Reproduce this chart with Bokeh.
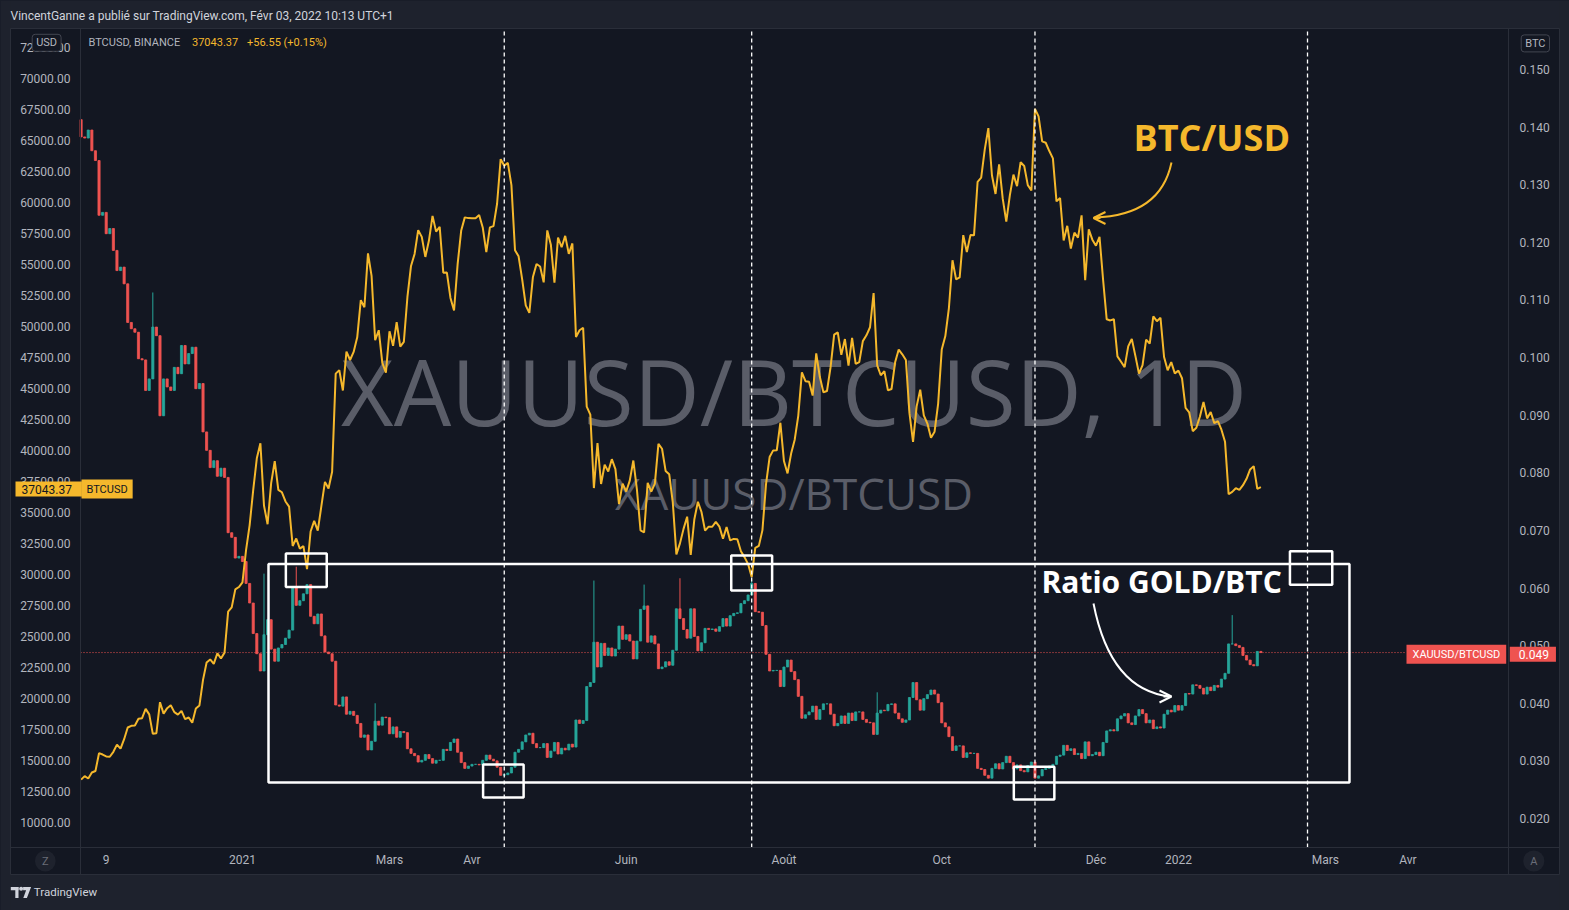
import numpy as np
import pandas as pd
from bokeh.plotting import figure
from bokeh.models import (Range1d, LinearAxis, FixedTicker, NumeralTickFormatter,
                          BoxAnnotation, Label, Arrow, OpenHead, ColumnDataSource)
from bokeh.embed import file_html
from bokeh.resources import INLINE
from bokeh.core.properties import value

# ----------------------------------------------------------------- data
first_bar = "2020-10-30"          # one bar per weekday (gold session)
last_bar = "2022-02-03"

# BTCUSD close (left axis, USD)
btc_2020 = [13460, 13740, 13550, 14030, 14150, 15590, 15480, 15330, 15300, 15700, 16280, 15960,
            16720, 17660, 17800, 17820, 18370, 18410, 19160, 18720, 17150, 17200, 19700, 18780,
            19220, 19450, 18900, 18700, 19000, 18340, 18470, 18050, 19200, 19440, 21500, 22900,
            23150, 22790, 23650, 23230, 23700, 27000, 27350, 28800, 28990]
btc_2021_q1 = [29370, 31970, 33990, 36820, 39370, 40580, 35560, 34050, 37370, 39150, 36830, 36630,
               35890, 35470, 32300, 32900, 32090, 32290, 30430, 33470, 34320,
               33530, 35510, 37470, 36930, 38290, 46200, 46480, 44840, 47970, 47300, 47950, 49130,
               52120, 51550, 55900, 54090, 48890, 49700, 47070, 46280,
               49620, 48440, 50350, 48370, 48760, 52380, 54880, 55850, 57770, 57230, 55610, 56930,
               58920, 57650, 58030, 54340, 54350, 52300, 51290, 55030, 57750, 58800, 58740]
btc_2021_q2 = [58730, 58730, 58990, 57990, 56000, 57990, 58100, 59900, 63500, 62960, 63200, 61400,
               56150, 55660, 53800, 51700, 51100, 54000, 55040, 54840, 53560, 57750,
               56600, 53540, 57170, 56390, 57310, 55860, 56700, 49150, 49700, 49900, 43540, 42900,
               36970, 40600, 37300, 38850, 38300, 39300, 38500, 35680, 37330,
               36690, 37570, 39190, 36850, 33560, 33400, 37390, 36680, 37330, 40530, 40140, 38350,
               38090, 35820, 31620, 32510, 33680, 34660, 31590, 34430, 35870, 35040]
btc_2021_q3 = [33540, 33860, 33850, 34240, 33860, 32880, 33820, 32750, 32870, 32840, 31880, 31400,
               30840, 29790, 32140, 32310, 33580, 37290, 39470, 40010, 40020, 42240,
               39150, 38150, 39750, 40870, 42820, 46300, 45590, 45550, 44430, 47830, 45940, 44700,
               44800, 46720, 49340, 49530, 47710, 48990, 46840, 49080, 46990, 47130,
               48820, 49290, 49940, 52700, 46860, 46070, 46400, 44850, 44960, 47110, 48140, 47760,
               47300, 43010, 40690, 43560, 44900, 42840, 42170, 41030, 41520, 43790]
btc_2021_q4 = [48140, 49230, 51490, 55340, 53800, 53960, 57370, 56000, 57370, 57350, 61670, 62000,
               64280, 66000, 62200, 60690, 63080, 60330, 58450, 60590, 62250,
               61320, 63250, 62940, 61400, 60970, 67550, 66940, 64930, 64820, 64150, 63560, 60090,
               60360, 56940, 58120, 56290, 57570, 57160, 58960, 53730, 57830, 57000,
               56520, 57230, 53750, 50580, 50490, 50590, 47590, 47160, 46720, 48400, 49000, 47630,
               46200, 46880, 48940, 48620, 50820, 50430, 50700, 47540, 46470, 47130, 46220]
btc_2022 = [46440, 45830, 43430, 43080, 41560, 41830, 42740, 43920, 42590, 43100, 42210, 42370,
            41680, 40700, 36470, 36660, 36960, 36820, 37200, 37720, 38470,
            38740, 36900, 37043]

# XAUUSD/BTCUSD close (right axis, BTC)
ratio_first_open = 0.1413
ratio_2020 = [0.1383, 0.1381, 0.1395, 0.1359, 0.1342, 0.1247, 0.1252, 0.1215, 0.1224, 0.1186,
              0.1151, 0.1157, 0.1128, 0.1061, 0.1050, 0.1044, 0.0998, 0.0996, 0.0943, 0.0963,
              0.1053, 0.1038, 0.0899, 0.0963, 0.0949, 0.0943, 0.0983, 0.0972, 0.1021, 0.0989,
              0.1007, 0.1018, 0.0946, 0.0955, 0.0871, 0.0839, 0.0809, 0.0821, 0.0794, 0.0808,
              0.0792, 0.0696, 0.0688, 0.0652, 0.0655]
ratio_2021_q1 = [0.0646, 0.0608, 0.0574, 0.0521, 0.0486, 0.0456, 0.0519, 0.0545, 0.0494, 0.0473,
                 0.0496, 0.0502, 0.0513, 0.0527, 0.0600, 0.0570, 0.0578, 0.0590, 0.0606, 0.0551,
                 0.0538,
                 0.0555, 0.0517, 0.0489, 0.0486, 0.0473, 0.0397, 0.0395, 0.0411, 0.0381, 0.0386,
                 0.0379, 0.0365, 0.0341, 0.0345, 0.0319, 0.0334, 0.0369, 0.0362, 0.0376, 0.0375,
                 0.0347, 0.0359, 0.0341, 0.0351, 0.0349, 0.0321, 0.0313, 0.0309, 0.0298, 0.0301,
                 0.0311, 0.0304, 0.0296, 0.0301, 0.0301, 0.0320, 0.0318, 0.0332, 0.0338, 0.0315,
                 0.0297, 0.0287, 0.0291]
ratio_2021_q2 = [0.0294, 0.0294, 0.0293, 0.0301, 0.0310, 0.0303, 0.0300, 0.0289, 0.0275, 0.0276,
                 0.0279, 0.0289, 0.0315, 0.0320, 0.0333, 0.0345, 0.0348, 0.0330, 0.0323, 0.0323,
                 0.0330, 0.0306,
                 0.0317, 0.0332, 0.0312, 0.0322, 0.0319, 0.0329, 0.0324, 0.0371, 0.0365, 0.0370,
                 0.0429, 0.0436, 0.0506, 0.0463, 0.0504, 0.0483, 0.0496, 0.0482, 0.0494, 0.0534,
                 0.0511,
                 0.0519, 0.0508, 0.0477, 0.0508, 0.0563, 0.0569, 0.0506, 0.0517, 0.0503, 0.0460,
                 0.0463, 0.0472, 0.0466, 0.0492, 0.0564, 0.0547, 0.0528, 0.0513, 0.0564, 0.0516,
                 0.0491, 0.0505]
ratio_2021_q3 = [0.0530, 0.0528, 0.0529, 0.0525, 0.0533, 0.0547, 0.0534, 0.0552, 0.0556, 0.0557,
                 0.0573, 0.0578, 0.0588, 0.0608, 0.0559, 0.0558, 0.0535, 0.0485, 0.0456, 0.0457,
                 0.0457, 0.0429,
                 0.0463, 0.0475, 0.0455, 0.0441, 0.0412, 0.0374, 0.0380, 0.0385, 0.0395, 0.0372,
                 0.0389, 0.0399, 0.0399, 0.0381, 0.0361, 0.0365, 0.0378, 0.0365, 0.0383, 0.0370,
                 0.0385, 0.0385,
                 0.0372, 0.0367, 0.0366, 0.0346, 0.0383, 0.0388, 0.0387, 0.0398, 0.0399, 0.0383,
                 0.0373, 0.0367, 0.0371, 0.0410, 0.0436, 0.0406, 0.0388, 0.0408, 0.0415, 0.0423,
                 0.0416, 0.0401]
ratio_2021_q4 = [0.0366, 0.0359, 0.0342, 0.0318, 0.0326, 0.0326, 0.0306, 0.0314, 0.0313, 0.0313,
                 0.0287, 0.0285, 0.0275, 0.0270, 0.0287, 0.0295, 0.0286, 0.0297, 0.0308, 0.0297,
                 0.0286,
                 0.0293, 0.0283, 0.0281, 0.0292, 0.0298, 0.0270, 0.0274, 0.0285, 0.0287, 0.0291,
                 0.0294, 0.0308, 0.0310, 0.0327, 0.0318, 0.0321, 0.0311, 0.0313, 0.0304, 0.0333,
                 0.0309, 0.0311,
                 0.0315, 0.0309, 0.0332, 0.0352, 0.0354, 0.0352, 0.0373, 0.0378, 0.0382, 0.0366,
                 0.0363, 0.0378, 0.0389, 0.0382, 0.0366, 0.0371, 0.0356, 0.0359, 0.0357, 0.0381,
                 0.0388, 0.0385, 0.0396]
ratio_2022 = [0.0388, 0.0396, 0.0417, 0.0416, 0.0432, 0.0431, 0.0426, 0.0416, 0.0428, 0.0422,
              0.0431, 0.0428, 0.0442, 0.0452, 0.0503, 0.0503, 0.0500, 0.0497, 0.0483, 0.0475,
              0.0467,
              0.0465, 0.0490, 0.0488]

# long upper wicks visible on the candles
wick_dates = ["2020-11-27", "2021-01-11", "2021-01-22", "2021-02-23", "2021-05-19",
              "2021-06-08", "2021-06-22", "2021-07-20", "2021-09-07", "2022-01-24"]
wick_highs = [0.1113, 0.0625, 0.0637, 0.0400, 0.0613, 0.0606, 0.0617, 0.0615, 0.0419, 0.0553]

# scales
tick_dates = ["2020-11-10", "2021-01-01", "2021-03-01", "2021-04-01", "2021-06-01", "2021-08-02",
              "2021-10-01", "2021-12-01", "2022-01-03", "2022-03-01", "2022-04-01"]
tick_labels = ["9", "2021", "Mars", "Avr", "Juin", "Août", "Oct", "Déc", "2022", "Mars", "Avr"]
usd_ticks = list(range(10000, 72501, 2500))
btc_ticks = [0.02, 0.03, 0.04, 0.05, 0.06, 0.07, 0.08, 0.09, 0.10, 0.11, 0.12, 0.13, 0.14, 0.15]

# author drawings (bar position, ratio)
vline_dates = ["2021-04-14", "2021-07-20", "2021-11-08", "2022-02-22"]
big_box = (52.26, 353.7, 0.02623, 0.06419)
small_boxes = [(57.1, 68.5, 0.0602, 0.0660), (112.1, 123.4, 0.02364, 0.02937),
               (181.3, 192.7, 0.05957, 0.06565), (260.1, 271.4, 0.0233, 0.02897),
               (337.1, 348.9, 0.06058, 0.06639)]
last_price = 0.0488

# ----------------------------------------------------------------- style
BG = "#131722"
OUTER = "#1e222d"
LINE = "#2a2e39"
AX_TXT = "#b2b5be"
UP = "#26a69a"
DOWN = "#ef5350"
YEL = "#f5b82c"
WM = "#5a5d68"
FONT = "Roboto"

W, H = 1569, 910
# page-pixel geometry of the TradingView pane
PANE_L, PANE_R, PANE_T, PANE_B = 10, 1559, 28, 874
PLOT_L, PLOT_R, PLOT_B = 80, 1508, 847
BAR_PX, BAR0_PX = 3.586, 80.6
USD_PX, USD_REF_PX = 0.0124, 822           # px per USD, pixel row of 10000
R_PX, R_REF_PX = 5761.5, 818                # px per BTC unit, pixel row of 0.020


def px2x(px):
    return (px - BAR0_PX) / BAR_PX


def py2usd(py):
    return 10000 + (USD_REF_PX - py) / USD_PX


def py2r(py):
    return 0.02 + (R_REF_PX - py) / R_PX


def make_label(opts_list, **kw):
    for opts in opts_list:
        try:
            return Label(**kw, **opts)
        except Exception:
            continue
    return Label(**kw)


def boxed(pad, radius=0):
    l, r, t, b = pad
    return [dict(padding=dict(left=l, right=r, top=t, bottom=b), border_radius=radius),
            dict(padding=(t, r, b, l), border_radius=radius),
            dict(padding=max(l, t)), {}]


# ----------------------------------------------------------------- series
dates = pd.bdate_range(first_bar, last_bar)
all_days = pd.bdate_range(first_bar, "2022-06-30")
pos = {d: i for i, d in enumerate(all_days)}

btc = np.array(btc_2020 + btc_2021_q1 + btc_2021_q2 + btc_2021_q3 + btc_2021_q4 + btc_2022, float)
ratio = np.array(ratio_2020 + ratio_2021_q1 + ratio_2021_q2 + ratio_2021_q3 + ratio_2021_q4
                 + ratio_2022, float)
n = min(len(dates), len(btc), len(ratio))
btc, ratio = btc[:n], ratio[:n]
idx = np.arange(n)

r_open = np.concatenate([[ratio_first_open], ratio[:-1]])
r_high = np.maximum(r_open, ratio)
r_low = np.minimum(r_open, ratio)
for d, h in zip(wick_dates, wick_highs):
    k = pos[pd.Timestamp(d)]
    if k < n:
        r_high[k] = max(r_high[k], h)
colors = np.where(ratio >= r_open, UP, DOWN)
candles = ColumnDataSource(dict(x=idx, top=np.maximum(r_open, ratio), bottom=np.minimum(r_open, ratio),
                                high=r_high, low=r_low, color=colors))

# ----------------------------------------------------------------- figure
p = figure(width=W, height=H, x_range=Range1d(px2x(0), px2x(W)), y_range=Range1d(py2usd(H), py2usd(0)),
           toolbar_location=None, output_backend="svg", min_border=0,
           background_fill_color=BG, border_fill_color=OUTER, outline_line_color=None)
p.grid.visible = False
p.extra_y_ranges = {"ratio": Range1d(py2r(H), py2r(0))}

# page surround (outside the TradingView pane)
p.quad(left=[px2x(0), px2x(0), px2x(0), px2x(PANE_R)],
       right=[px2x(W), px2x(W), px2x(PANE_L), px2x(W)],
       top=[py2usd(0), py2usd(PANE_B), py2usd(0), py2usd(0)],
       bottom=[py2usd(PANE_T), py2usd(H), py2usd(H), py2usd(H)],
       fill_color=OUTER, line_color=None)
p.quad(left=[px2x(PANE_L)], right=[px2x(PANE_R)], top=[py2usd(PANE_T)], bottom=[py2usd(PANE_B)],
       fill_alpha=0, line_color=LINE, line_width=1)

# watermark
p.text(x=[px2x(793.5)], y=[py2usd(390)], text=["XAUUSD/BTCUSD, 1D"], text_font=value("Open Sans"),
       text_font_size="91px", text_color=WM, text_align="center", text_baseline="middle")
p.text(x=[px2x(793.5)], y=[py2usd(492)], text=["XAUUSD/BTCUSD"], text_font=value("Open Sans"),
       text_font_size="44px", text_color=WM, text_align="center", text_baseline="middle")

# last-price dotted line
p.segment(x0=[px2x(PLOT_L)], x1=[px2x(1406)], y0=[last_price], y1=[last_price], y_range_name="ratio",
          line_color=DOWN, line_width=1, line_dash="1 2")

# candles
p.segment(x0="x", y0="high", x1="x", y1="low", source=candles, line_color="color", line_width=1,
          y_range_name="ratio")
p.vbar(x="x", top="top", bottom="bottom", width=0.6, source=candles, fill_color="color",
       line_color="color", line_width=0.8, y_range_name="ratio")

# BTCUSD line
p.line(idx, btc, line_color=YEL, line_width=2)

# vertical dashed lines
vx = [pos[pd.Timestamp(d)] for d in vline_dates]
p.segment(x0=vx, x1=vx, y0=[py2usd(PLOT_B)] * len(vx), y1=[py2usd(PANE_T)] * len(vx),
          line_color="white", line_width=1.3, line_dash="4 3")

# rectangles
for (x0, x1, y0, y1) in [big_box] + small_boxes:
    p.add_layout(BoxAnnotation(left=x0, right=x1, bottom=y0, top=y1, y_range_name="ratio",
                               fill_alpha=0, line_color="white", line_width=2.5, line_alpha=1))

# curved arrows
p.quadratic(x0=[px2x(1171)], y0=[py2usd(162)], x1=[px2x(1094)], y1=[py2usd(217)],
            cx=[px2x(1160)], cy=[py2usd(215)], line_color=YEL, line_width=2)
p.add_layout(Arrow(x_start=px2x(1100), y_start=py2usd(217.5), x_end=px2x(1093), y_end=py2usd(217.5),
                   line_color=YEL, line_width=2,
                   end=OpenHead(size=12, line_color=YEL, line_width=2)))
p.quadratic(x0=[px2x(1093)], y0=[py2usd(603)], x1=[px2x(1170)], y1=[py2usd(696)],
            cx=[px2x(1110)], cy=[py2usd(690)], line_color="white", line_width=2)
p.add_layout(Arrow(x_start=px2x(1163), y_start=py2usd(696), x_end=px2x(1171), y_end=py2usd(696),
                   line_color="white", line_width=2,
                   end=OpenHead(size=12, line_color="white", line_width=2)))

# annotation texts
p.add_layout(Label(x=px2x(1133), y=py2usd(137), text="BTC/USD", text_font="Open Sans",
                   text_font_style="bold", text_font_size="36px", text_color=YEL,
                   text_baseline="middle"))
p.add_layout(Label(x=px2x(1041), y=py2usd(581), text="Ratio GOLD/BTC", text_font="Open Sans",
                   text_font_style="bold", text_font_size="30px", text_color="white",
                   text_baseline="middle"))

# header, legend, footer
p.add_layout(Label(x=px2x(10), y=py2usd(15), text="VincentGanne a publié sur TradingView.com, Févr 03, 2022 10:13 UTC+1",
                   text_font=FONT, text_font_size="12px", text_color="#d1d4dc", text_baseline="middle"))
p.add_layout(Label(x=px2x(88), y=py2usd(41.7), text="BTCUSD, BINANCE", text_font=FONT,
                   text_font_size="11px", text_color=AX_TXT, text_baseline="middle"))
p.add_layout(Label(x=px2x(191.5), y=py2usd(41.7), text="37043.37", text_font=FONT,
                   text_font_size="11px", text_color=YEL, text_baseline="middle"))
p.add_layout(Label(x=px2x(246.5), y=py2usd(41.7), text="+56.55 (+0.15%)", text_font=FONT,
                   text_font_size="11px", text_color=YEL, text_baseline="middle"))
LOGO = "#d1d4dc"
p.quad(left=[px2x(10.3), px2x(14.8)], right=[px2x(18.0), px2x(18.0)],
       top=[py2usd(886.5), py2usd(886.5)], bottom=[py2usd(889.7), py2usd(897.5)],
       fill_color=LOGO, line_color=None)
p.scatter(x=[px2x(20.6)], y=[py2usd(888.3)], size=4, fill_color=LOGO, line_color=None)
p.patch(x=[px2x(22.6), px2x(30.6), px2x(26.4), px2x(22.8), px2x(25.6), px2x(22.6)],
        y=[py2usd(886.5), py2usd(886.5), py2usd(897.5), py2usd(897.5), py2usd(889.7), py2usd(889.7)],
        fill_color=LOGO, line_color=None)
p.add_layout(Label(x=px2x(33.3), y=py2usd(891.7), text="TradingView", text_font=FONT,
                   text_font_size="11.5px", text_color=LOGO, text_baseline="middle"))

# axes (fixed on the pane separators)
axis_style = dict(axis_line_color=LINE, major_tick_line_color=None, minor_tick_line_color=None,
                  major_tick_out=0, major_tick_in=0, major_label_text_color=AX_TXT,
                  major_label_text_font=FONT, major_label_text_font_size="12px")
ax_l = p.yaxis[0]
ax_l.ticker = FixedTicker(ticks=usd_ticks)
ax_l.formatter = NumeralTickFormatter(format="0.00")
for k, v in axis_style.items():
    setattr(ax_l, k, v)
ax_l.major_label_standoff = 10
ax_l.fixed_location = px2x(PLOT_L)
ax_l.bounds = (py2usd(PANE_B), py2usd(PANE_T))

ax_r = LinearAxis(y_range_name="ratio", ticker=FixedTicker(ticks=btc_ticks),
                  formatter=NumeralTickFormatter(format="0.000"), **axis_style)
ax_r.major_label_standoff = 11
ax_r.fixed_location = px2x(PLOT_R)
ax_r.bounds = (py2r(PANE_B), py2r(PANE_T))
p.add_layout(ax_r, "right")

ax_b = p.xaxis[0]
tick_pos = [pos[pd.Timestamp(d)] for d in tick_dates]
ax_b.ticker = FixedTicker(ticks=tick_pos)
ax_b.major_label_overrides = {t: lab for t, lab in zip(tick_pos, tick_labels)}
for k, v in axis_style.items():
    setattr(ax_b, k, v)
ax_b.major_label_standoff = 5
ax_b.fixed_location = py2usd(PLOT_B)
ax_b.bounds = (px2x(PANE_L), px2x(PANE_R))

# price tags on the scales (x = left edge of the tag box)
p.add_layout(make_label(boxed((6, 10, 3, 3)), x=px2x(15), y=py2usd(488.5), text="37043.37",
                        text_font=FONT, text_font_size="12px", text_color=BG, text_baseline="middle",
                        background_fill_color=YEL))
p.add_layout(make_label(boxed((5, 5, 3, 3)), x=px2x(81), y=py2usd(488.5), text="BTCUSD",
                        text_font=FONT, text_font_size="11px", text_color=BG, text_baseline="middle",
                        background_fill_color=YEL))
p.add_layout(make_label(boxed((6, 6, 3, 3)), x=px2x(1406), y=py2usd(653.7), text="XAUUSD/BTCUSD",
                        text_font=FONT, text_font_size="11px", text_color="white",
                        text_baseline="middle", background_fill_color=DOWN))
p.add_layout(make_label(boxed((9, 7, 3, 3)), x=px2x(1509.3), y=py2usd(653.7), text="0.049",
                        text_font=FONT, text_font_size="12px", text_color="white",
                        text_baseline="middle", background_fill_color=DOWN))
p.add_layout(make_label(boxed((4, 4, 2, 2), 3), x=px2x(31.7), y=py2usd(42.3), text="USD",
                        text_font=FONT, text_font_size="11px", text_color=AX_TXT, text_baseline="middle",
                        background_fill_color=BG, border_line_color="#434651"))
p.add_layout(make_label(boxed((4, 4, 2, 2), 3), x=px2x(1520.7), y=py2usd(42.9), text="BTC",
                        text_font=FONT, text_font_size="11px", text_color=AX_TXT, text_baseline="middle",
                        background_fill_color=BG, border_line_color="#434651"))
p.add_layout(make_label(boxed((7, 7, 4, 4), 11), x=px2x(44.8), y=py2usd(860.5), text="Z",
                        text_font=FONT, text_font_size="11px", text_color="#6a6d78", text_align="center",
                        text_baseline="middle", background_fill_color=OUTER))
p.add_layout(make_label(boxed((7, 7, 4, 4), 11), x=px2x(1533.3), y=py2usd(860.5), text="A",
                        text_font=FONT, text_font_size="11px", text_color="#6a6d78", text_align="center",
                        text_baseline="middle", background_fill_color=OUTER))

html = file_html(p, INLINE, title="XAUUSD/BTCUSD")
h = html.find("</head>")
k = html.find("<body", h if h >= 0 else 0)
if k >= 0:
    html = (html[:k] + '<body style="margin:0;padding:0;overflow:hidden;background-color:#1e222d;"'
            + html[k + 5:])
open("out.html", "w").write(html)
